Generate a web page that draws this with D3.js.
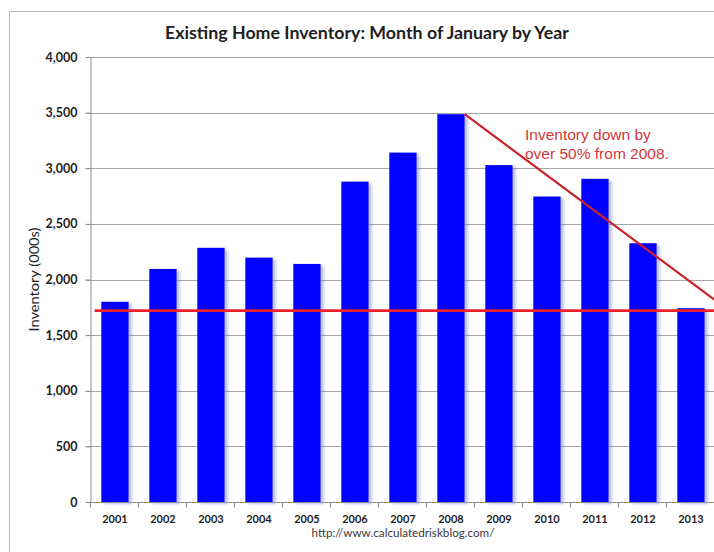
<!DOCTYPE html>
<html>
<head>
<meta charset="utf-8">
<script src="https://cdn.jsdelivr.net/npm/d3@7"></script>
<style>
  html, body { margin: 0; padding: 0; background: #fff; }
  svg { display: block; }
</style>
</head>
<body>
<script>
// Existing home inventory, month of January (thousands of units)
const years = ["2001","2002","2003","2004","2005","2006","2007","2008","2009","2010","2011","2012","2013"];
const inventory = [1800, 2095, 2285, 2197, 2140, 2880, 3141, 3486, 3028, 2746, 2905, 2326, 1742];
const yTicks = [0, 500, 1000, 1500, 2000, 2500, 3000, 3500, 4000];

// Reference level and decline trend drawn over the bars
const referenceLevel = 1720;
const trendFrom = { year: "2008", value: 3486 };
const trendToValue = 1815; // value where the trend meets the right edge of the plot
const noteLines = ["Inventory down by", "over 50% from 2008."];

const titleText = "Existing Home Inventory: Month of January by Year";
const yLabel = "Inventory (000s)";
const sourceText = "http://www.calculatedriskblog.com/";

const W = 714, H = 552;
const plot = { left: 91, right: 715, top: 57, bottom: 502 };

const svg = d3.select("body").append("svg").attr("width", W).attr("height", H);

// soft right-hand shadow behind bars
const defs = svg.append("defs");
const f = defs.append("filter").attr("id", "barShadow")
  .attr("x", "-20%").attr("y", "-5%").attr("width", "150%").attr("height", "115%");
f.append("feDropShadow").attr("dx", 3).attr("dy", 2).attr("stdDeviation", 1.6)
  .attr("flood-color", "#7070ff").attr("flood-opacity", 0.45);

// outer chart frame
svg.append("rect").attr("x", 9.5).attr("y", 11.5).attr("width", W + 20).attr("height", H + 20)
  .attr("fill", "#fff").attr("stroke", "#b8b8b8").attr("stroke-width", 1);

const x = d3.scaleBand().domain(years).range([plot.left, plot.right])
  .paddingInner(0.43).paddingOuter(0.215);
const y = d3.scaleLinear().domain([0, 4000]).range([plot.bottom, plot.top]);

// horizontal gridlines
svg.append("g").selectAll("line").data(yTicks.filter(d => d > 0)).join("line")
  .attr("x1", plot.left - 5).attr("x2", W)
  .attr("y1", d => Math.round(y(d)) + 0.5).attr("y2", d => Math.round(y(d)) + 0.5)
  .attr("stroke", "#a6a6a6").attr("stroke-width", 1);

// y axis
const yAxis = svg.append("g").attr("transform", `translate(${plot.left - 0.5},0)`)
  .call(d3.axisLeft(y).tickValues(yTicks).tickSize(5).tickSizeOuter(0).tickPadding(8)
    .tickFormat(d3.format(",")));
yAxis.select(".domain").attr("stroke", "#8c8c8c");
yAxis.selectAll(".tick line").attr("stroke", "#8c8c8c");
yAxis.selectAll(".tick text")
  .attr("font-family", "Lato, 'Open Sans', sans-serif").attr("font-weight", 700)
  .attr("font-size", 12.5).attr("fill", "#1e1e1e");

// bars
svg.append("g").selectAll("rect").data(years).join("rect")
  .attr("x", (d) => x(d))
  .attr("y", (d, i) => y(inventory[i]))
  .attr("width", x.bandwidth())
  .attr("height", (d, i) => y(0) - y(inventory[i]))
  .attr("fill", "#0000ff")
  .attr("filter", "url(#barShadow)");

// x axis with ticks at category boundaries
const xAxisG = svg.append("g").attr("transform", `translate(0,${plot.bottom + 0.5})`);
xAxisG.append("line").attr("x1", plot.left - 0.5).attr("x2", W)
  .attr("stroke", "#8c8c8c");
xAxisG.selectAll("line.tk").data(d3.range(years.length + 1)).join("line").attr("class", "tk")
  .attr("x1", i => Math.round(plot.left + i * x.step()) - 0.5)
  .attr("x2", i => Math.round(plot.left + i * x.step()) - 0.5)
  .attr("y1", 0).attr("y2", 5).attr("stroke", "#8c8c8c");
xAxisG.selectAll("text").data(years).join("text")
  .attr("x", d => x(d) + x.bandwidth() / 2).attr("y", 20)
  .attr("text-anchor", "middle")
  .attr("font-family", "Lato, 'Open Sans', sans-serif").attr("font-weight", 700)
  .attr("font-size", 11).attr("fill", "#1e1e1e")
  .text(d => d);

// reference level line
svg.append("line")
  .attr("x1", x("2001") - x.step() * 0.14).attr("x2", W)
  .attr("y1", y(referenceLevel)).attr("y2", y(referenceLevel))
  .attr("stroke", "#e8202a").attr("stroke-width", 2.6);

// decline trend line from the 2008 peak
svg.append("line")
  .attr("x1", x(trendFrom.year) + x.bandwidth()).attr("y1", y(trendFrom.value))
  .attr("x2", plot.right).attr("y2", y(trendToValue))
  .attr("stroke", "#cc2228").attr("stroke-width", 2.2);

// annotation
svg.append("text")
  .attr("font-family", "'Liberation Sans', Arial, sans-serif").attr("font-size", 15.5)
  .attr("fill", "#d4363c")
  .selectAll("tspan").data(noteLines).join("tspan")
  .attr("x", 525).attr("y", (d, i) => 140 + i * 18.5)
  .text(d => d);

// title
svg.append("text").attr("x", 367).attr("y", 39).attr("text-anchor", "middle")
  .attr("font-family", "Lato, 'Open Sans', sans-serif").attr("font-weight", 700)
  .attr("font-size", 16.5).attr("fill", "#1e1e1e")
  .attr("textLength", 404).attr("lengthAdjust", "spacingAndGlyphs")
  .text(titleText);

// y axis title
svg.append("text")
  .attr("transform", `translate(39,${(plot.top + plot.bottom) / 2}) rotate(-90)`)
  .attr("text-anchor", "middle")
  .attr("font-family", "Lato, 'Open Sans', sans-serif").attr("font-size", 12.5)
  .attr("fill", "#1e1e1e")
  .attr("textLength", 104).attr("lengthAdjust", "spacingAndGlyphs")
  .text(yLabel);

// source line
svg.append("text").attr("x", 403).attr("y", 537).attr("text-anchor", "middle")
  .attr("font-family", "Lato, 'Open Sans', sans-serif").attr("font-size", 11)
  .attr("fill", "#3a3a3a")
  .attr("textLength", 183).attr("lengthAdjust", "spacingAndGlyphs")
  .text(sourceText);
</script>
</body>
</html>
